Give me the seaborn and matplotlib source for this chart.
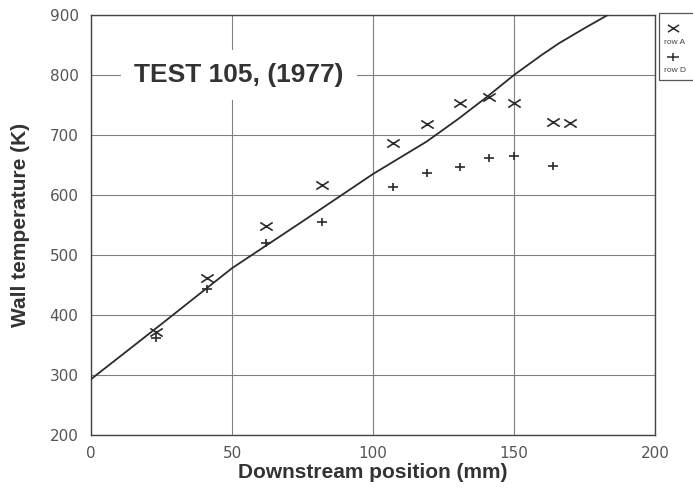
import matplotlib
matplotlib.use("Agg")
import matplotlib.pyplot as plt
import seaborn as sns
from matplotlib.lines import Line2D
from matplotlib.patches import Rectangle
from matplotlib.path import Path

# Measured wall temperatures (K) against downstream position (mm)
pos_a = [23, 41, 62, 82, 107, 119, 131, 141, 150, 164, 170]
row_a = [372, 462, 548, 616, 686, 718, 754, 763, 754, 722, 720]
pos_d = [23, 41, 62, 82, 107, 119, 131, 141, 150, 164]
row_d = [361, 443, 520, 555, 613, 637, 647, 662, 665, 649]

# Predicted wall temperature curve
line_x = [0, 25, 50, 75, 100, 119, 130, 140, 150, 160, 166, 175, 184]
line_y = [293, 385, 478, 556, 635, 689, 726, 762, 800, 834, 853, 878, 902]

x_ticks = [0, 50, 100, 150, 200]
y_ticks = [200, 300, 400, 500, 600, 700, 800, 900]
legend_labels = ["row A", "row D"]

# Slightly flattened cross and plus symbols
codes = [Path.MOVETO, Path.LINETO, Path.MOVETO, Path.LINETO]
cross = Path([(-1, -0.65), (1, 0.65), (-1, 0.65), (1, -0.65)], codes)
plus = Path([(-1, 0), (1, 0), (0, -0.75), (0, 0.75)], codes)

sns.set_theme(style="white")
plt.rcParams["font.family"] = ["DejaVu Sans"]

W, H = 693, 492
fig = plt.figure(figsize=(W / 100, H / 100), dpi=100)
ax = fig.add_axes([91 / W, 1 - 435 / H, (655 - 91) / W, (435 - 15) / H])

ink = "#2b2b2b"
grid_c = "#808080"

sns.lineplot(x=line_x, y=line_y, ax=ax, color=ink, linewidth=1.3,
             sort=False, zorder=3)
sns.scatterplot(x=pos_a, y=row_a, ax=ax, marker=cross, s=80, color=ink,
                edgecolor=ink, linewidth=1.2, zorder=4)
sns.scatterplot(x=pos_d, y=row_d, ax=ax, marker=plus, s=55, color=ink,
                edgecolor=ink, linewidth=1.2, zorder=4)

ax.set_xlim(0, 200)
ax.set_ylim(200, 900)
ax.set_xticks(x_ticks)
ax.set_yticks(y_ticks)
ax.grid(True, color=grid_c, linewidth=0.8)
ax.set_axisbelow(True)
for side in ["left", "bottom", "top", "right"]:
    ax.spines[side].set_color("#444444")
    ax.spines[side].set_linewidth(1.0)

ax.tick_params(axis="both", direction="out", length=4, width=0.9,
               color="#444444", labelsize=11, labelcolor="#555555", pad=5)
ax.tick_params(axis="x", pad=4)

label_font = dict(family="Liberation Sans", fontweight="bold", fontsize=15,
                  color="#333333")
ax.set_xlabel("Downstream position (mm)", **label_font)
ax.set_ylabel("Wall temperature (K)", **label_font)
ax.xaxis.set_label_coords(0.5, (435 - 472) / 420)
ax.xaxis.label.set_va("center")
ax.yaxis.set_label_coords((20 - 91) / 564, 0.5)
ax.yaxis.label.set_va("center")
ax.yaxis.label.set_ha("center")

ax.text(52.5, 800, "TEST 105, (1977)", family="Liberation Sans",
        fontweight="bold", fontsize=19, color="#333333",
        ha="center", va="center", zorder=5,
        bbox=dict(boxstyle="square,pad=0.5", fc="white", ec="none"))

# Small legend box at the right edge
fig.add_artist(Rectangle((659 / W, 1 - 80 / H), 60 / W, 67 / H,
                         transform=fig.transFigure, fill=False,
                         ec="#555555", lw=0.9, clip_on=False))
for mk, yy, lab, ty in zip([cross, plus], [28, 57], legend_labels, [42, 71]):
    fig.add_artist(Line2D([673 / W], [1 - yy / H], marker=mk, markersize=8,
                          mew=1.1, color=ink, mec=ink, linestyle="none",
                          transform=fig.transFigure))
    fig.text(664 / W, 1 - ty / H, lab, fontsize=6, color="#444444",
             ha="left", va="center", family="Liberation Sans")

fig.savefig("out.png", dpi=100)
